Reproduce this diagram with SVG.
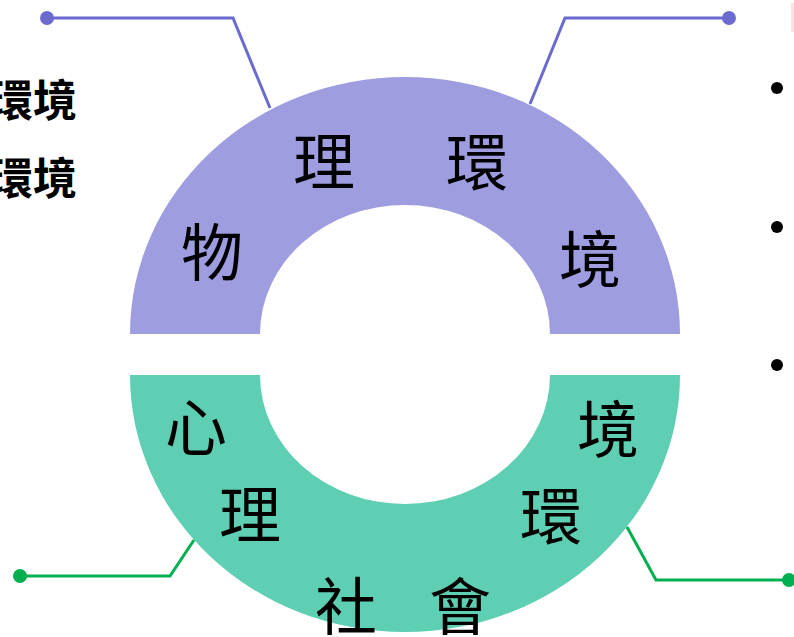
<svg xmlns="http://www.w3.org/2000/svg" width="794" height="637" viewBox="0 0 794 637">
<style>
.ch{font-family:"Noto Sans CJK TC","Noto Sans CJK SC",sans-serif;font-size:62px;fill:#000;text-anchor:middle}
.side{font-family:"Noto Sans CJK TC","Noto Sans CJK SC",sans-serif;font-size:44px;font-weight:bold;fill:#000;text-anchor:end}
.cp{fill:none;stroke:#6b6bcf;stroke-width:3}
.cg{fill:none;stroke:#00b050;stroke-width:3}
</style>
<rect width="794" height="637" fill="#fff"/>
<rect x="791" y="3" width="3" height="29" fill="#fde2e2"/>
<g id="side-text">
<text class="side" x="77" y="117">環境</text>
<text class="side" x="77" y="195">環境</text>
</g>
<g id="bullets" fill="#000">
<circle cx="777" cy="88" r="6"/>
<circle cx="777" cy="227" r="6"/>
<circle cx="777" cy="365" r="6"/>
</g>
<g id="physical">
<path d="M130,334 A275,257 0 0 1 680,334 L550,334 A145,129 0 0 0 260,334 Z" fill="#9e9ddf"/>
<text class="ch" x="212" y="276">物</text>
<text class="ch" x="324" y="185">理</text>
<text class="ch" x="477" y="186">環</text>
<text class="ch" x="590" y="283">境</text>
</g>
<g id="psychosocial">
<path d="M130,375 A275,257 0 0 0 680,375 L550,375 A145,129 0 0 1 260,375 Z" fill="#5ecfb3"/>
<text class="ch" x="196" y="451">心</text>
<text class="ch" x="250" y="538">理</text>
<text class="ch" x="346" y="630">社</text>
<text class="ch" x="460" y="630">會</text>
<text class="ch" x="551" y="540">環</text>
<text class="ch" x="608" y="453">境</text>
</g>
<g id="connectors">
<polyline class="cp" points="47,18 233,18 270,108"/>
<circle cx="47" cy="18" r="7" fill="#6b6bcf"/>
<polyline class="cp" points="530,104 565,18 729,18"/>
<circle cx="729" cy="18" r="7" fill="#6b6bcf"/>
<polyline class="cg" points="20,576 170,576 194,540"/>
<circle cx="20" cy="576" r="7" fill="#00b050"/>
<polyline class="cg" points="627,527 656,580 789,580"/>
<circle cx="789" cy="580" r="7" fill="#00b050"/>
</g>
</svg>
